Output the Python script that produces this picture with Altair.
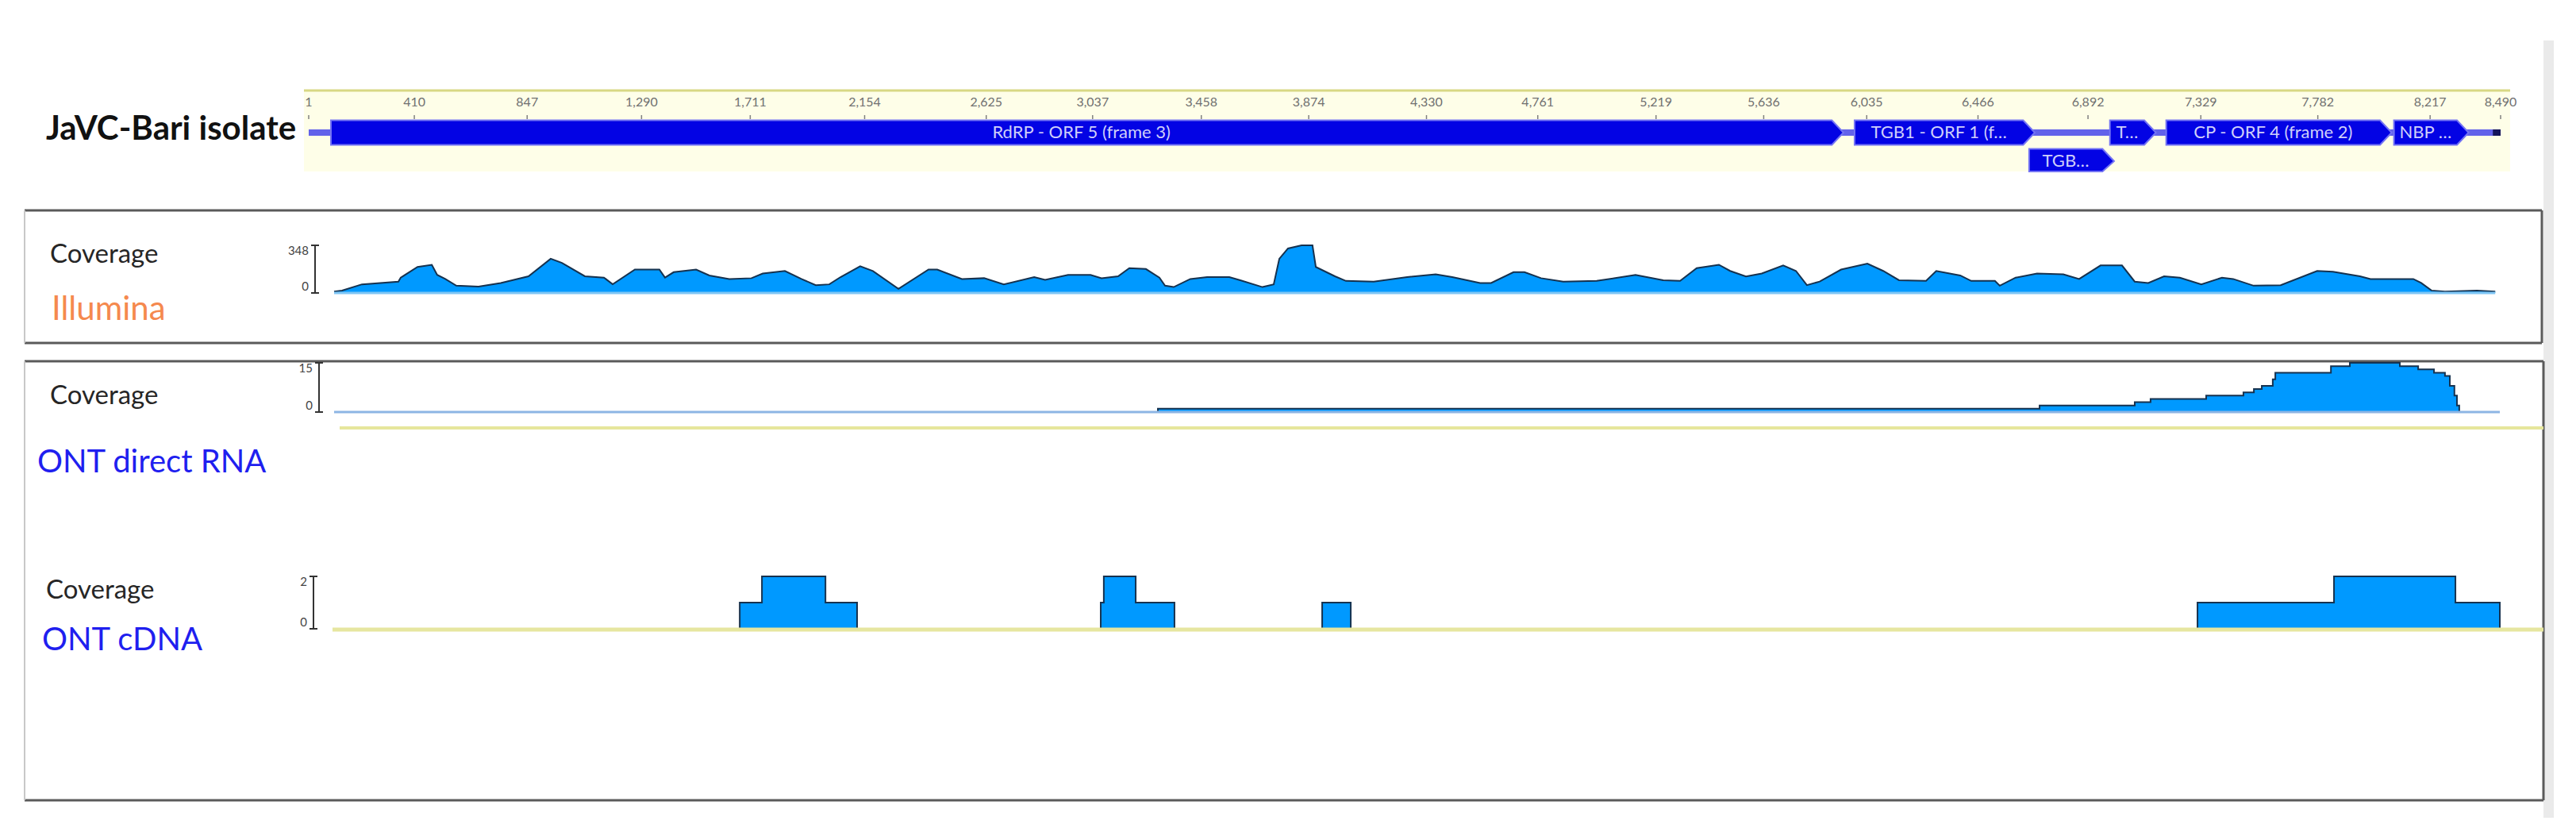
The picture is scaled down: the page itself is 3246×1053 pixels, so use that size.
import altair as alt
import pandas as pd

# ---------------- data ----------------
genome_length = 8490
ruler_ticks = [1, 410, 847, 1290, 1711, 2154, 2625, 3037, 3458, 3874, 4330,
               4761, 5219, 5636, 6035, 6466, 6892, 7329, 7782, 8217, 8490]

feature_labels = ["RdRP - ORF 5 (frame 3)", "TGB1 - ORF 1 (f…", "TGB…", "T…",
                  "CP - ORF 4 (frame 2)", "NBP …"]
feature_start = [87, 5988, 6664, 6977, 7195, 8077]
feature_end = [5945, 6686, 6993, 7155, 8068, 8366]
feature_row = [0, 0, 1, 0, 0, 0]

illumina_pos = [1, 32, 110, 253, 262, 328, 384, 405, 437, 480,
                567, 654, 763, 850, 894, 984, 1059, 1093, 1180, 1276,
                1298, 1332, 1420, 1472, 1550, 1637, 1681, 1768, 1833, 1889,
                1942, 1986, 2063, 2113, 2213, 2331, 2365, 2462, 2549, 2626,
                2745, 2788, 2878, 2966, 3009, 3074, 3118, 3183, 3236, 3258,
                3292, 3357, 3423, 3510, 3553, 3640, 3684, 3706, 3740, 3793,
                3836, 3849, 3924, 3967, 4076, 4207, 4319, 4384, 4493, 4536,
                4624, 4667, 4732, 4819, 4950, 5102, 5211, 5277, 5342, 5429,
                5473, 5535, 5597, 5681, 5731, 5774, 5824, 5908, 6011, 6073,
                6135, 6241, 6281, 6375, 6418, 6511, 6530, 6592, 6676, 6779,
                6841, 6925, 7009, 7059, 7112, 7174, 7236, 7320, 7401, 7445,
                7525, 7631, 7774, 7836, 7942, 7983, 8151, 8182, 8222, 8275,
                8400, 8472]
illumina_cov = [10, 18, 63, 83, 112, 190, 206, 132, 102, 53,
                47, 73, 122, 250, 220, 122, 112, 63, 171, 171,
                112, 152, 171, 128, 102, 108, 142, 161, 102, 57,
                63, 116, 195, 160, 30, 171, 171, 102, 108, 63,
                116, 96, 132, 132, 108, 122, 181, 175, 112, 53,
                43, 102, 116, 116, 93, 43, 63, 250, 325, 348,
                348, 190, 122, 88, 83, 116, 136, 116, 73, 73,
                152, 152, 108, 83, 88, 132, 93, 88, 181, 206,
                161, 120, 142, 201, 161, 57, 83, 171, 214, 161,
                93, 88, 161, 128, 88, 88, 53, 112, 142, 136,
                102, 201, 201, 83, 73, 122, 112, 63, 112, 102,
                53, 57, 161, 155, 122, 102, 102, 73, 18, 10,
                18, 10]

rna_pos = [1, 3230, 6686, 7059, 7121, 7339, 7485, 7526, 7557, 7600, 7610,
           7828, 7902, 8098, 8170, 8232, 8275, 8294, 8312, 8322, 8331, 8490]
rna_cov = [0, 1, 2, 3, 4, 5, 6, 7, 8, 10, 12,
           14, 15, 14, 13, 12, 11, 8, 5, 2, 0, 0]

cdna_pos = [1, 1591, 1678, 1927, 2051, 3006, 3018, 3143, 3295, 3874, 3986,
            7305, 7840, 8316, 8490]
cdna_cov = [0, 1, 2, 1, 0, 1, 2, 1, 0, 1, 0, 1, 2, 1, 0]

illumina_axis = [0, 348]
rna_axis = [0, 15]
cdna_axis = [0, 2]

title_text = "JaVC-Bari isolate"
coverage_text = "Coverage"
track_names = ["Illumina", "ONT direct RNA", "ONT cDNA"]

# ---------------- layout / style ----------------
W, H = 3230, 1037
FONT = "Lato"
BLUE_FILL = "#0099FF"
EDGE = "#16324f"

x_gen = alt.Scale(domain=[1, genome_length], range=[381, 3143], nice=False, zero=False)
x_cov = alt.Scale(domain=[1, genome_length], range=[413, 3142], nice=False, zero=False)
y_gen = alt.Scale(domain=[-1.5, 1.36], range=[105, 208], nice=False, zero=False, clamp=True)
y_ill = alt.Scale(domain=[0, 348], range=[361, 301], nice=False, zero=False)
y_rna = alt.Scale(domain=[0, 15], range=[511, 449], nice=False, zero=False)
y_cdna = alt.Scale(domain=[0, 2], range=[784, 718], nice=False, zero=False)

one = pd.DataFrame({"k": [0]})


def rect(x1, x2, y1, y2, fill):
    return alt.Chart(one).mark_rect(color=fill, opacity=1).encode(
        x=alt.value(x1), x2=alt.value(x2), y=alt.value(y1), y2=alt.value(y2))


def hline(x1, x2, y, color, w):
    return alt.Chart(one).mark_rule(color=color, strokeWidth=w).encode(
        x=alt.value(x1), x2=alt.value(x2), y=alt.value(y))


def vline(x, y1, y2, color, w):
    return alt.Chart(one).mark_rule(color=color, strokeWidth=w).encode(
        x=alt.value(x), y=alt.value(y1), y2=alt.value(y2))


def label(text, x, y, size, color, weight="normal"):
    return alt.Chart(one).mark_text(align="left", baseline="middle", font=FONT,
                                    fontSize=size, fontWeight=weight, color=color).encode(
        x=alt.value(x), y=alt.value(y), text=alt.value(text))


def data_baseline(x1, x2, xs, ys, color, w):
    df = pd.DataFrame({"a": [x1], "b": [x2], "z": [0]})
    return alt.Chart(df).mark_rule(color=color, strokeWidth=w).encode(
        x=alt.X("a:Q", scale=xs, axis=None), x2="b:Q",
        y=alt.Y("z:Q", scale=ys, axis=None))


def axis_layers(vals, ys, xpx):
    vmin, vmax = min(vals), max(vals)
    df = pd.DataFrame({"v": vals})
    stem = alt.Chart(pd.DataFrame({"a": [vmin], "b": [vmax]})).mark_rule(
        color="#333333", strokeWidth=2).encode(
        x=alt.value(xpx), y=alt.Y("a:Q", scale=ys, axis=None), y2="b:Q")
    caps = alt.Chart(df).mark_rule(color="#333333", strokeWidth=2).encode(
        x=alt.value(xpx - 5), x2=alt.value(xpx + 5),
        y=alt.Y("v:Q", scale=ys, axis=None))
    top = alt.Chart(df[df.v == vmax]).mark_text(
        align="right", baseline="top", font=FONT, fontSize=15, color="#444444").encode(
        x=alt.value(xpx - 8), y=alt.Y("v:Q", scale=ys, axis=None), text="v:Q")
    bot = alt.Chart(df[df.v == vmin]).mark_text(
        align="right", baseline="bottom", font=FONT, fontSize=15, color="#444444").encode(
        x=alt.value(xpx - 8), y=alt.Y("v:Q", scale=ys, axis=None), text="v:Q")
    return [stem, caps, top, bot]


def coverage_area(pos, cov, ys, step):
    df = pd.DataFrame({"pos": pos, "cov": cov})
    kw = dict(color=BLUE_FILL, opacity=1, line={"color": EDGE, "strokeWidth": 2})
    if step:
        kw["interpolate"] = "step-after"
    return alt.Chart(df).mark_area(**kw).encode(
        x=alt.X("pos:Q", scale=x_cov, axis=None),
        y=alt.Y("cov:Q", scale=ys, axis=None),
        y2=alt.datum(0))


# genome arrows as polygons
tip = 45
half = 0.43
poly = []
mids = []
for lab, s, e, r in zip(feature_labels, feature_start, feature_end, feature_row):
    poly.append({"f": lab, "x": s, "lo": r + half, "hi": r - half})
    poly.append({"f": lab, "x": e - tip, "lo": r + half, "hi": r - half})
    poly.append({"f": lab, "x": e, "lo": r, "hi": r})
    mids.append({"f": lab, "mid": (s + e - tip) / 2, "row": r})
poly_df = pd.DataFrame(poly)
mid_df = pd.DataFrame(mids)
ruler_df = pd.DataFrame({"pos": ruler_ticks})

layers = []
# background pieces
layers.append(rect(3197, 3210, 43, 1022, "#EAEAEA"))
layers.append(rect(375, 3155, 105, 208, "#FEFEE8"))
layers.append(hline(375, 3155, 106, "#D8D884", 3))

# ruler
layers.append(alt.Chart(ruler_df).mark_text(
    font=FONT, fontSize=16, color="#707070", baseline="middle", align="center").encode(
    x=alt.X("pos:Q", scale=x_gen, axis=None), y=alt.value(121),
    text=alt.Text("pos:Q", format=",")))
layers.append(alt.Chart(ruler_df).mark_rule(color="#808080", strokeWidth=1.5).encode(
    x=alt.X("pos:Q", scale=x_gen, axis=None), y=alt.value(137), y2=alt.value(142)))

# backbone + features
bb = pd.DataFrame({"a": [1], "b": [genome_length], "row": [0]})
layers.append(alt.Chart(bb).mark_rule(color="#6262EA", strokeWidth=8).encode(
    x=alt.X("a:Q", scale=x_gen, axis=None), x2="b:Q",
    y=alt.Y("row:Q", scale=y_gen, axis=None)))
bb_end = pd.DataFrame({"a": [genome_length - 30], "b": [genome_length], "row": [0]})
layers.append(alt.Chart(bb_end).mark_rule(color="#14145A", strokeWidth=8).encode(
    x=alt.X("a:Q", scale=x_gen, axis=None), x2="b:Q",
    y=alt.Y("row:Q", scale=y_gen, axis=None)))
layers.append(alt.Chart(poly_df).mark_area(
    color="#0303E4", opacity=1, stroke="#7474F4", strokeWidth=2).encode(
    x=alt.X("x:Q", scale=x_gen, axis=None),
    y=alt.Y("lo:Q", scale=y_gen, axis=None), y2="hi:Q", detail="f:N"))
layers.append(alt.Chart(mid_df).mark_text(
    font=FONT, fontSize=22, color="#CFCFFA", baseline="middle", align="center").encode(
    x=alt.X("mid:Q", scale=x_gen, axis=None),
    y=alt.Y("row:Q", scale=y_gen, axis=None), text="f:N"))

# boxes
GRAY = "#5A5A5A"
LIGHT = "#C8C8C8"
layers += [hline(23, 3195, 257, GRAY, 3), hline(23, 3195, 424, GRAY, 3),
           vline(3195, 257, 424, GRAY, 3), vline(23, 257, 424, LIGHT, 2)]
layers += [hline(23, 3197, 447, GRAY, 3), hline(23, 3197, 1000, GRAY, 3),
           vline(3197, 447, 1000, GRAY, 3), vline(23, 447, 1000, LIGHT, 2)]

# Illumina track
layers.append(coverage_area(illumina_pos, illumina_cov, y_ill, False))
layers.append(data_baseline(1, 8472, x_cov, y_ill, "#7FC6F5", 3))
layers += axis_layers(illumina_axis, y_ill, 389)

# ONT direct RNA track
layers.append(hline(420, 3197, 531, "#E6E69C", 4))
layers.append(coverage_area(rna_pos, rna_cov, y_rna, True))
layers.append(data_baseline(1, genome_length, x_cov, y_rna, "#8DB5E4", 3))
layers += axis_layers(rna_axis, y_rna, 394)

# ONT cDNA track
layers.append(coverage_area(cdna_pos, cdna_cov, y_cdna, True))
layers.append(hline(411, 3197, 785, "#E6E6A0", 5))
layers += axis_layers(cdna_axis, y_cdna, 387)

# text labels
layers.append(label(title_text, 50, 155, 42, "#111111", "bold"))
layers.append(label(coverage_text, 55, 313, 33, "#262626"))
layers.append(label(track_names[0], 57, 382, 42, "#F5894E"))
layers.append(label(coverage_text, 55, 491, 33, "#262626"))
layers.append(label(track_names[1], 39, 575, 40, "#1F1FEF"))
layers.append(label(coverage_text, 50, 736, 33, "#262626"))
layers.append(label(track_names[2], 45, 799, 40, "#1F1FEF"))

chart = alt.layer(*layers).resolve_scale(
    x="independent", y="independent"
).properties(
    width=W, height=H, padding=0,
    autosize=alt.AutoSizeParams(type="none")
).configure_view(stroke="transparent")

chart.save("out.html", embed_options={"renderer": "svg", "actions": False})
